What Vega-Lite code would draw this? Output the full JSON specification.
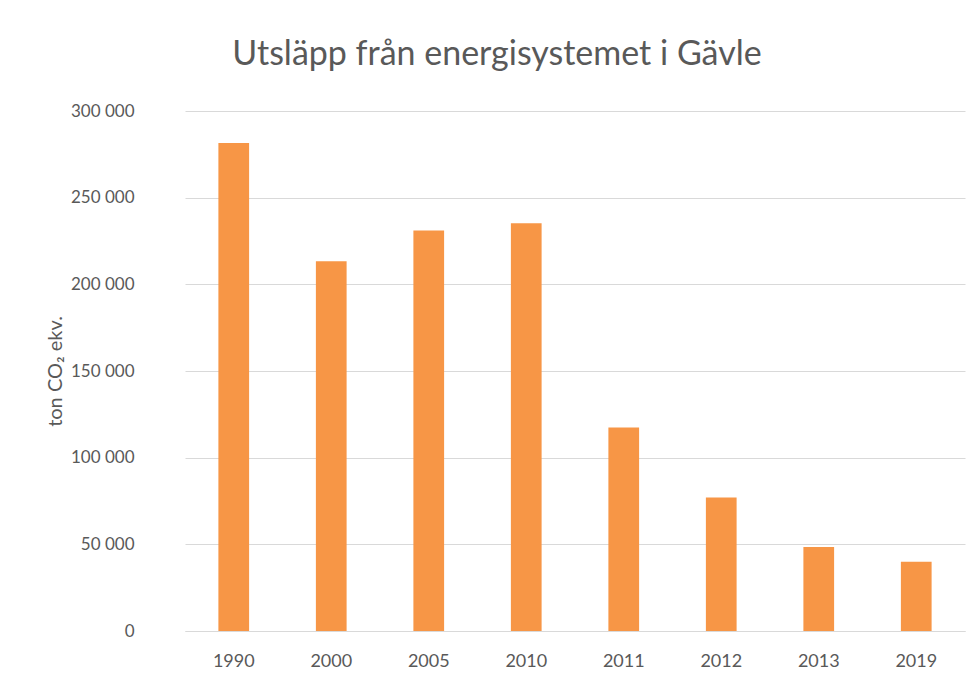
{
  "$schema": "https://vega.github.io/schema/vega-lite/v6.json",
  "autosize": "none",
  "width": 780,
  "height": 520,
  "padding": {"left": 185, "top": 111, "right": 5, "bottom": 52},
  "background": "white",
  "title": {
    "text": "Utsläpp från energisystemet i Gävle",
    "font": "Lato",
    "fontSize": 34,
    "fontWeight": "normal",
    "color": "#595959",
    "anchor": "middle",
    "offset": 30,
    "dx": -78
  },
  "data": {
    "values": [
      {"year": "1990", "value": 281500},
      {"year": "2000", "value": 213300},
      {"year": "2005", "value": 231000},
      {"year": "2010", "value": 235200},
      {"year": "2011", "value": 117400},
      {"year": "2012", "value": 77000},
      {"year": "2013", "value": 48500},
      {"year": "2019", "value": 40000}
    ]
  },
  "mark": {"type": "bar", "color": "#F79646"},
  "encoding": {
    "x": {
      "field": "year",
      "type": "ordinal",
      "title": null,
      "scale": {"paddingInner": 0.685, "paddingOuter": 0.3425},
      "axis": {
        "labelAngle": 0,
        "ticks": false,
        "tickSize": 0,
        "labelPadding": 21,
        "domainColor": "#d9d9d9",
        "labelFont": "Lato",
        "labelFontSize": 18,
        "labelColor": "#595959"
      }
    },
    "y": {
      "field": "value",
      "type": "quantitative",
      "title": "ton CO₂ ekv.",
      "scale": {"domain": [0, 300000]},
      "axis": {
        "values": [0, 50000, 100000, 150000, 200000, 250000, 300000],
        "format": ",d",
        "labelExpr": "replace(datum.label, ',', ' ')",
        "domain": false,
        "ticks": false,
        "tickSize": 0,
        "labelPadding": 51,
        "gridColor": "#d9d9d9",
        "gridWidth": 1,
        "labelFont": "Lato",
        "labelFontSize": 17,
        "labelColor": "#595959",
        "titleFont": "Lato",
        "titleFontSize": 20,
        "titleFontWeight": "normal",
        "titleColor": "#595959",
        "titleBaseline": "middle",
        "titleX": -130,
        "titleY": 260
      }
    }
  },
  "config": {"view": {"stroke": null}}
}
